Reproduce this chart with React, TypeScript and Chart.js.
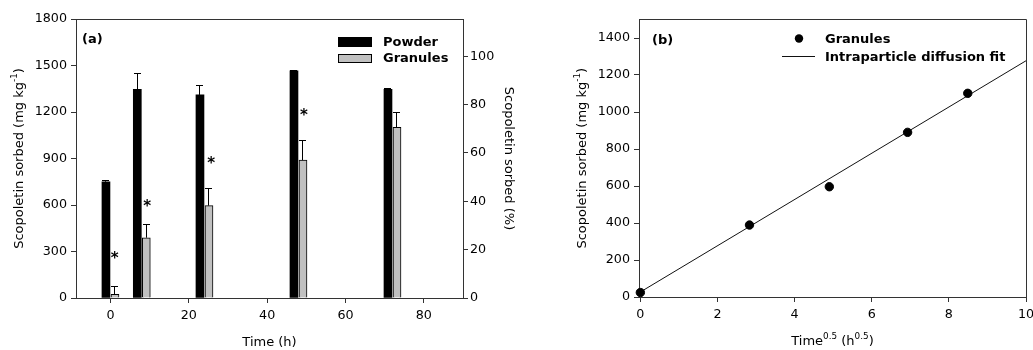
import React, { useEffect, useRef } from "react";
import { Chart, registerables } from "chart.js";

Chart.register(...registerables);

// ---------- data ----------
const times = [0, 8, 24, 48, 72];
const powderSorbed = [750, 1346, 1310, 1465, 1346];
const powderErr = [9, 104, 62, 5, 4];
const granulesSorbed = [24, 389, 596, 890, 1101];
const granulesErr = [49, 82, 112, 129, 99];
const starTimes = [1.1, 9.4, 25.7, 49.4];
const starValues = [277, 611, 890, 1202];

const sqrtTime = [0, 2.83, 4.9, 6.93, 8.49];
const fitX = [0, 10];
const fitY = [27, 1277];

// ---------- style / layout ----------
const FONT = "'DejaVu Sans', 'Liberation Sans', sans-serif";
const TICK_SIZE = 12.7;
const TITLE_SIZE = 13;
const LEG_SIZE = 13;
const BAR_SHIFT = 1.15;
const AXIS_COLOR = "#333";

type Seg = { t: string; sup?: boolean };

function drawRich(
  ctx: CanvasRenderingContext2D,
  segs: Seg[],
  cx: number,
  cy: number,
  rot: number,
  size: number,
  bold = false
) {
  ctx.save();
  ctx.translate(cx, cy);
  ctx.rotate(rot);
  const supSize = size * 0.68;
  const fontFor = (s: Seg) => `${bold ? "bold " : ""}${s.sup ? supSize : size}px ${FONT}`;
  let total = 0;
  const widths = segs.map((s) => {
    ctx.font = fontFor(s);
    const w = ctx.measureText(s.t).width;
    total += w;
    return w;
  });
  let x = -total / 2;
  const base = size * 0.365;
  ctx.textAlign = "left";
  ctx.textBaseline = "alphabetic";
  ctx.fillStyle = "#000";
  segs.forEach((s, i) => {
    ctx.font = fontFor(s);
    ctx.fillText(s.t, x, s.sup ? base - size * 0.42 : base);
    x += widths[i];
  });
  ctx.restore();
}

function drawLabel(ctx: CanvasRenderingContext2D, text: string, x: number, cy: number, size: number, bold = true) {
  ctx.save();
  ctx.font = `${bold ? "bold " : ""}${size}px ${FONT}`;
  ctx.fillStyle = "#000";
  ctx.textAlign = "left";
  ctx.textBaseline = "alphabetic";
  ctx.fillText(text, x, cy + size * 0.365);
  ctx.restore();
}

const align = (p: number) => Math.round(p - 0.5) + 0.5;
const plainTick = (v: any) => String(v);

function scaleBase(extra: any) {
  return {
    grid: { drawOnChartArea: false, drawTicks: true, tickLength: 5, color: AXIS_COLOR, lineWidth: 1 },
    border: { display: true, color: AXIS_COLOR, width: 1 },
    ...extra,
  };
}

const panelAPlugin = {
  id: "panelA",
  afterDatasetsDraw(chart: any) {
    const ctx: CanvasRenderingContext2D = chart.ctx;
    const yS = chart.scales.y;
    const xS = chart.scales.x;
    const errs = [powderErr, granulesErr];
    const vals = [powderSorbed, granulesSorbed];
    ctx.save();
    ctx.strokeStyle = "#000";
    ctx.lineWidth = 1;
    chart.data.datasets.forEach((_: any, di: number) => {
      const meta = chart.getDatasetMeta(di);
      meta.data.forEach((el: any, i: number) => {
        const { x, y } = el.getProps(["x", "y"], true);
        const yTop = yS.getPixelForValue(vals[di][i] + errs[di][i]);
        const xl = align(x);
        const yt = align(yTop);
        ctx.beginPath();
        ctx.moveTo(xl, y);
        ctx.lineTo(xl, yt);
        ctx.moveTo(xl - 3.5, yt);
        ctx.lineTo(xl + 3.5, yt);
        ctx.stroke();
      });
    });
    // significance asterisks
    ctx.font = `bold 15px ${FONT}`;
    ctx.fillStyle = "#000";
    ctx.textAlign = "center";
    ctx.textBaseline = "alphabetic";
    const m = ctx.measureText("*");
    const off = (m.actualBoundingBoxAscent - m.actualBoundingBoxDescent) / 2;
    starTimes.forEach((t, i) => {
      ctx.fillText("*", xS.getPixelForValue(t), yS.getPixelForValue(starValues[i]) + off);
    });
    ctx.restore();
  },
  afterDraw(chart: any) {
    const ctx: CanvasRenderingContext2D = chart.ctx;
    const { left: L, top: T, right: R, bottom: B } = chart.chartArea;
    ctx.save();
    ctx.strokeStyle = AXIS_COLOR;
    ctx.lineWidth = 1;
    ctx.beginPath();
    ctx.moveTo(L, align(T));
    ctx.lineTo(R, align(T));
    ctx.stroke();
    // legend
    const ds = chart.data.datasets;
    ctx.fillStyle = ds[0].backgroundColor;
    ctx.fillRect(L + 262, T + 18, 34, 10);
    ctx.fillStyle = ds[1].backgroundColor;
    ctx.fillRect(L + 262.5, T + 35.5, 33, 8);
    ctx.strokeStyle = "#000";
    ctx.strokeRect(L + 262.5, T + 35.5, 33, 8);
    ctx.restore();
    drawLabel(ctx, ds[0].label, L + 307, T + 22, LEG_SIZE);
    drawLabel(ctx, ds[1].label, L + 307, T + 38.5, LEG_SIZE);
    drawLabel(ctx, "(a)", L + 6, T + 19, LEG_SIZE);
    // axis titles
    const midY = (T + B) / 2;
    drawRich(ctx, [{ t: "Scopoletin sorbed (mg kg" }, { t: "-1", sup: true }, { t: ")" }], L - 58, midY, -Math.PI / 2, TITLE_SIZE);
    drawRich(ctx, [{ t: "Scopoletin sorbed (%)" }], R + 47, midY, Math.PI / 2, TITLE_SIZE);
    drawRich(ctx, [{ t: "Time (h)" }], (L + R) / 2, B + 43, 0, TITLE_SIZE);
  },
};

const panelBPlugin = {
  id: "panelB",
  afterDraw(chart: any) {
    const ctx: CanvasRenderingContext2D = chart.ctx;
    const { left: L, top: T, right: R, bottom: B } = chart.chartArea;
    ctx.save();
    ctx.strokeStyle = AXIS_COLOR;
    ctx.lineWidth = 1;
    ctx.beginPath();
    ctx.moveTo(L, align(T));
    ctx.lineTo(align(R), align(T));
    ctx.lineTo(align(R), B);
    ctx.stroke();
    // legend
    const ds = chart.data.datasets;
    ctx.fillStyle = "#000";
    ctx.beginPath();
    ctx.arc(L + 160, T + 19, 4.2, 0, Math.PI * 2);
    ctx.fill();
    ctx.strokeStyle = ds[1].borderColor;
    ctx.beginPath();
    ctx.moveTo(L + 143, align(T + 37));
    ctx.lineTo(L + 176, align(T + 37));
    ctx.stroke();
    ctx.restore();
    drawLabel(ctx, ds[0].label, L + 186, T + 18.5, LEG_SIZE);
    drawLabel(ctx, ds[1].label, L + 186, T + 36.5, LEG_SIZE);
    drawLabel(ctx, "(b)", L + 13, T + 20, LEG_SIZE);
    const midY = (T + B) / 2;
    drawRich(ctx, [{ t: "Scopoletin sorbed (mg kg" }, { t: "-1", sup: true }, { t: ")" }], L - 58, midY, -Math.PI / 2, TITLE_SIZE);
    drawRich(
      ctx,
      [{ t: "Time" }, { t: "0.5", sup: true }, { t: " (h" }, { t: "0.5", sup: true }, { t: ")" }],
      (L + R) / 2,
      B + 43,
      0,
      TITLE_SIZE
    );
  },
};

const tickFont = { family: FONT, size: TICK_SIZE };

export default function App() {
  const refA = useRef<HTMLCanvasElement>(null);
  const refB = useRef<HTMLCanvasElement>(null);

  useEffect(() => {
    const chartA = new Chart(refA.current as HTMLCanvasElement, {
      type: "bar",
      data: {
        datasets: [
          {
            label: "Powder",
            data: times.map((t, i) => ({ x: t - BAR_SHIFT, y: powderSorbed[i] })),
            backgroundColor: "#000",
            borderColor: "#000",
            borderWidth: 0,
            barThickness: 8,
            grouped: false,
            yAxisID: "y",
          },
          {
            label: "Granules",
            data: times.map((t, i) => ({ x: t + BAR_SHIFT, y: granulesSorbed[i] })),
            backgroundColor: "#c0c0c0",
            borderColor: "#000",
            borderWidth: 1,
            barThickness: 8,
            grouped: false,
            yAxisID: "y",
          },
        ] as any,
      },
      options: {
        responsive: false,
        animation: false,
        events: [],
        layout: { padding: { top: 19, left: 0, right: 0, bottom: 0 } },
        plugins: { legend: { display: false }, tooltip: { enabled: false } },
        scales: {
          x: scaleBase({
            type: "linear",
            min: -8.8,
            max: 90,
            offset: false,
            grid: { drawOnChartArea: false, drawTicks: true, tickLength: 5, color: AXIS_COLOR, offset: false },
            ticks: { stepSize: 20, includeBounds: false, font: tickFont, color: "#000", padding: 5, maxRotation: 0, callback: plainTick },
            afterFit: (s: any) => {
              s.height = 52;
              s.paddingLeft = 0;
              s.paddingRight = 0;
            },
          }),
          y: scaleBase({
            type: "linear",
            position: "left",
            min: 0,
            max: 1800,
            ticks: { stepSize: 300, font: tickFont, color: "#000", padding: 4, callback: plainTick },
            afterFit: (s: any) => {
              s.width = 76;
            },
          }),
          y1: scaleBase({
            type: "linear",
            position: "right",
            min: 0,
            max: 115.4,
            ticks: { stepSize: 20, includeBounds: false, font: tickFont, color: "#000", padding: 2, callback: plainTick },
            afterFit: (s: any) => {
              s.width = 82;
            },
          }),
        },
      } as any,
      plugins: [panelAPlugin],
    });

    const chartB = new Chart(refB.current as HTMLCanvasElement, {
      type: "scatter",
      data: {
        datasets: [
          {
            label: "Granules",
            data: sqrtTime.map((x, i) => ({ x, y: granulesSorbed[i] })),
            backgroundColor: "#000",
            borderColor: "#000",
            pointRadius: 4.2,
            pointHoverRadius: 4.2,
            clip: false,
          },
          {
            type: "line",
            label: "Intraparticle diffusion fit",
            data: fitX.map((x, i) => ({ x, y: fitY[i] })),
            borderColor: "#111",
            borderWidth: 1,
            pointRadius: 0,
            fill: false,
          },
        ] as any,
      },
      options: {
        responsive: false,
        animation: false,
        events: [],
        layout: { padding: { top: 19.5, left: 0, right: 7, bottom: 0 } },
        plugins: { legend: { display: false }, tooltip: { enabled: false } },
        scales: {
          x: scaleBase({
            type: "linear",
            min: -0.035,
            max: 10,
            ticks: { stepSize: 2, includeBounds: false, font: tickFont, color: "#000", padding: 5, maxRotation: 0, callback: plainTick },
            afterFit: (s: any) => {
              s.height = 53;
              s.paddingLeft = 0;
              s.paddingRight = 0;
            },
          }),
          y: scaleBase({
            type: "linear",
            position: "left",
            min: 0,
            max: 1500,
            ticks: { stepSize: 200, includeBounds: false, font: tickFont, color: "#000", padding: 4, callback: plainTick },
            afterFit: (s: any) => {
              s.width = 94;
            },
          }),
        },
      } as any,
      plugins: [panelBPlugin],
    });

    return () => {
      chartA.destroy();
      chartB.destroy();
    };
  }, []);

  return (
    <div style={{ position: "absolute", left: 0, top: 0, width: 1033, height: 350, background: "#fff", overflow: "hidden" }}>
      <canvas ref={refA} width={545} height={350} style={{ position: "absolute", left: 0, top: 0 }} />
      <canvas ref={refB} width={488} height={350} style={{ position: "absolute", left: 545, top: 0 }} />
    </div>
  );
}
